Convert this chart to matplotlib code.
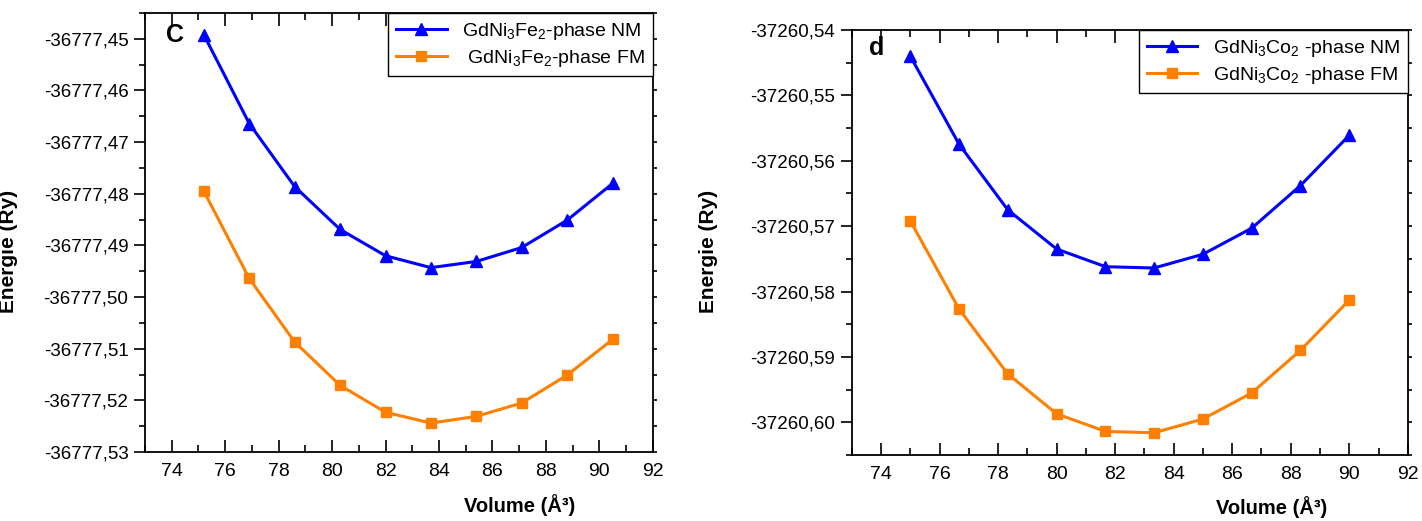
import numpy as np
import matplotlib
matplotlib.use("Agg")
import matplotlib.pyplot as plt
from matplotlib.ticker import MultipleLocator, AutoMinorLocator, FuncFormatter

plt.rcParams['font.family'] = ['Liberation Sans', 'DejaVu Sans']
plt.rcParams['mathtext.fontset'] = 'custom'
plt.rcParams['mathtext.rm'] = 'Liberation Sans'
plt.rcParams['mathtext.default'] = 'regular'

# GdNi3Fe2 (panel c)
vol_fe = [75.2, 76.9, 78.6, 80.3, 82.0, 83.7, 85.4, 87.1, 88.8, 90.5]
e_fe_nm = [-36777.4492, -36777.4664, -36777.4786, -36777.4869, -36777.4920,
           -36777.4943, -36777.4931, -36777.4904, -36777.4851, -36777.4780]
e_fe_fm = [-36777.4795, -36777.4964, -36777.5087, -36777.5171, -36777.5223,
           -36777.5244, -36777.5231, -36777.5205, -36777.5151, -36777.5082]

# GdNi3Co2 (panel d)
vol_co = [75.0, 76.67, 78.33, 80.0, 81.67, 83.33, 85.0, 86.67, 88.33, 90.0]
e_co_nm = [-37260.5440, -37260.5575, -37260.5675, -37260.5735, -37260.5762,
           -37260.5764, -37260.5743, -37260.5703, -37260.5638, -37260.5561]
e_co_fm = [-37260.5692, -37260.5827, -37260.5926, -37260.5987, -37260.6014,
           -37260.6016, -37260.5995, -37260.5955, -37260.5890, -37260.5813]

blue = '#0000ff'
orange = '#ff8000'

fig = plt.figure(figsize=(14.22, 5.21), dpi=100)
ax1 = fig.add_axes([0.102, 0.1324, 0.357, 0.8426])
ax2 = fig.add_axes([0.599, 0.1267, 0.391, 0.8157])

comma = FuncFormatter(lambda v, p: ('%.2f' % v).replace('.', ','))


def style(ax, ylim):
    ax.set_xlim(73, 92)
    ax.set_ylim(*ylim)
    ax.xaxis.set_major_locator(MultipleLocator(2))
    ax.xaxis.set_minor_locator(AutoMinorLocator(2))
    ax.yaxis.set_major_locator(MultipleLocator(0.01))
    ax.yaxis.set_minor_locator(AutoMinorLocator(2))
    ax.yaxis.set_major_formatter(comma)
    for s in ax.spines.values():
        s.set_linewidth(1.3)
    ax.tick_params(axis='x', which='both', direction='in', top=True, labelsize=14, pad=8)
    ax.tick_params(axis='x', which='major', length=9, width=1.2)
    ax.tick_params(axis='x', which='minor', length=5, width=1.2)
    ax.tick_params(axis='y', which='both', direction='out', right=True, labelsize=13.5, pad=4)
    ax.tick_params(axis='y', which='major', length=8, width=1.2)
    ax.tick_params(axis='y', which='minor', length=4, width=1.2)
    # short marks on the right spine
    for t in ax.yaxis.get_major_ticks() + ax.yaxis.get_minor_ticks():
        t.tick2line.set_markersize(3)


# panel c
ax1.plot(vol_fe, e_fe_nm, color=blue, lw=2.2, marker='^', ms=9,
         label='GdNi$_3$Fe$_2$-phase NM')
ax1.plot(vol_fe, e_fe_fm, color=orange, lw=2.2, marker='s', ms=7,
         label=' GdNi$_3$Fe$_2$-phase FM')
style(ax1, (-36777.53, -36777.445))
ax1.text(0.059, 0.95, 'C', transform=ax1.transAxes, fontsize=18,
         fontweight='bold', ha='center', va='center')
ax1.set_xlabel('Volume (Å³)', fontsize=14.5, fontweight='bold')
ax1.set_ylabel('Energie (Ry)', fontsize=15, fontweight='bold')
ax1.xaxis.set_label_coords(0.738, -0.096)
ax1.yaxis.set_label_coords(-0.25, 0.458)

# panel d
ax2.plot(vol_co, e_co_nm, color=blue, lw=2.2, marker='^', ms=9,
         label='GdNi$_3$Co$_2$ -phase NM')
ax2.plot(vol_co, e_co_fm, color=orange, lw=2.2, marker='s', ms=7,
         label='GdNi$_3$Co$_2$ -phase FM')
style(ax2, (-37260.605, -37260.54))
ax2.text(0.045, 0.958, 'd', transform=ax2.transAxes, fontsize=18,
         fontweight='bold', ha='center', va='center')
ax2.set_xlabel('Volume (Å³)', fontsize=14.5, fontweight='bold')
ax2.set_ylabel('Energie (Ry)', fontsize=15, fontweight='bold')
ax2.xaxis.set_label_coords(0.755, -0.097)
ax2.yaxis.set_label_coords(-0.241, 0.48)

for ax in (ax1, ax2):
    leg = ax.legend(loc='upper right', borderaxespad=0, fancybox=False,
                    edgecolor='black', fontsize=14, handlelength=2.6,
                    borderpad=0.4, labelspacing=0.3, framealpha=1)
    leg.get_frame().set_linewidth(1.0)

fig.savefig('out.png', dpi=100, facecolor='white')
